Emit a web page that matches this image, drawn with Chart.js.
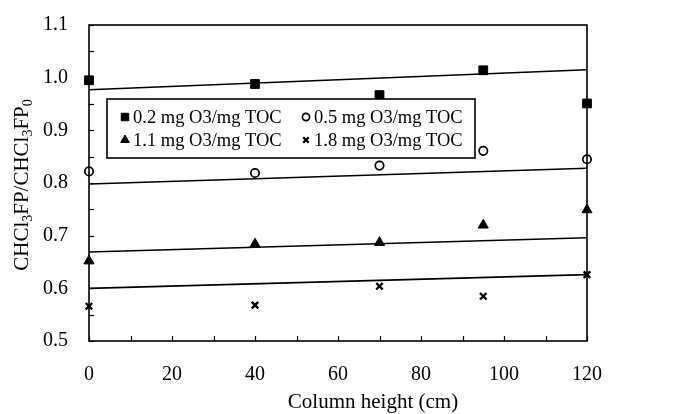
<!DOCTYPE html>
<html>
<head>
<meta charset="utf-8">
<script src="https://cdn.jsdelivr.net/npm/chart.js@4/dist/chart.umd.min.js"></script>
<style>
  html,body{margin:0;padding:0;background:#fff;}
  #wrap{width:680px;height:414px;position:relative;}
</style>
</head>
<body>
<div id="wrap"><canvas id="c" width="680" height="414"></canvas></div>
<script>
// ---- data ----
const heights = [0, 40, 70, 95, 120];
const s02 = [0.995, 0.988, 0.967, 1.014, 0.951];
const s05 = [0.822, 0.819, 0.833, 0.861, 0.845];
const s11 = [0.652, 0.684, 0.687, 0.720, 0.749];
const s18 = [0.566, 0.568, 0.604, 0.585, 0.626];
const fitX = [0, 120];
const fit02 = [0.977, 1.015];
const fit05 = [0.798, 0.828];
const fit11 = [0.669, 0.696];
const fit18 = [0.600, 0.626];
const seriesLabels = ['0.2 mg O3/mg TOC', '0.5 mg O3/mg TOC', '1.1 mg O3/mg TOC', '1.8 mg O3/mg TOC'];
const yTicks = [0.5, 0.6, 0.7, 0.8, 0.9, 1.0, 1.1];
const xTicks = [0, 20, 40, 60, 80, 100, 120];
const xTitle = 'Column height (cm)';
const yTitleParts = [['CHCl', false], ['3', true], ['FP/CHCl', false], ['3', true], ['FP', false], ['0', true]];

const SERIF = '"Liberation Serif", "Times New Roman", serif';
const pts = (ys) => heights.map((x, i) => ({x: x, y: ys[i]}));
const line = (ys) => fitX.map((x, i) => ({x: x, y: ys[i]}));

const markerStyles = [
  {pointStyle: 'rect', pointRadius: 6.2, backgroundColor: '#000', borderColor: '#000', borderWidth: 1},
  {pointStyle: 'circle', pointRadius: 4.2, backgroundColor: '#fff', borderColor: '#000', borderWidth: 1.7},
  {pointStyle: 'triangle', pointRadius: 5.8, backgroundColor: '#000', borderColor: '#000', borderWidth: 1},
  {pointStyle: 'crossRot', pointRadius: 4.6, backgroundColor: '#000', borderColor: '#000', borderWidth: 2.4}
];
const seriesData = [s02, s05, s11, s18];
const fitData = [fit02, fit05, fit11, fit18];

const datasets = [];
fitData.forEach((f) => datasets.push({
  type: 'line', data: line(f), borderColor: '#000', borderWidth: 1.6,
  pointRadius: 0, fill: false, clip: false, tension: 0
}));
seriesData.forEach((s, i) => datasets.push(Object.assign({
  type: 'scatter', label: seriesLabels[i], data: pts(s), clip: false
}, markerStyles[i])));

const framePlugin = {
  id: 'frame',
  afterDatasetsDraw(chart) {
    const {ctx, chartArea: a, scales} = chart;
    ctx.save();
    ctx.strokeStyle = '#000';
    ctx.lineWidth = 1.6;
    ctx.strokeRect(a.left, a.top, a.right - a.left, a.bottom - a.top);
    ctx.lineWidth = 1.2;
    // inward minor ticks
    for (let v = 0.5; v <= 1.1001; v += 0.05) {
      const y = Math.round(scales.y.getPixelForValue(v)) + 0.5;
      ctx.beginPath(); ctx.moveTo(a.left, y); ctx.lineTo(a.left + 5, y); ctx.stroke();
    }
    for (let v = 0; v <= 120; v += 10) {
      const x = Math.round(scales.x.getPixelForValue(v)) + 0.5;
      ctx.beginPath(); ctx.moveTo(x, a.bottom); ctx.lineTo(x, a.bottom - 5); ctx.stroke();
    }
    ctx.restore();
  },
  afterDraw(chart) {
    const {ctx, chartArea: a} = chart;
    ctx.save();
    // x-axis title
    ctx.font = '21px ' + SERIF;
    ctx.fillStyle = '#000';
    ctx.textAlign = 'center';
    ctx.textBaseline = 'middle';
    ctx.fillText(xTitle, a.left + 284, a.bottom + 61);
    ctx.restore();

    ctx.save();
    // y-axis title with subscripts
    const big = 21, small = 14;
    let total = 0;
    yTitleParts.forEach(([t, sub]) => {
      ctx.font = (sub ? small : big) + 'px ' + SERIF;
      total += ctx.measureText(t).width;
    });
    ctx.translate(21, a.top + 160);
    ctx.rotate(-Math.PI / 2);
    ctx.fillStyle = '#000';
    ctx.textBaseline = 'alphabetic';
    let x = -total / 2;
    yTitleParts.forEach(([t, sub]) => {
      ctx.font = (sub ? small : big) + 'px ' + SERIF;
      ctx.fillText(t, x, sub ? 11 : 7);
      x += ctx.measureText(t).width;
    });
    ctx.restore();

    // legend box
    ctx.save();
    const bx = a.left + 18, by = a.top + 74, bw = 368, bh = 59;
    ctx.fillStyle = '#fff';
    ctx.fillRect(bx, by, bw, bh);
    ctx.strokeStyle = '#000';
    ctx.lineWidth = 1.6;
    ctx.strokeRect(bx, by, bw, bh);
    ctx.font = '18.5px ' + SERIF;
    ctx.textBaseline = 'middle';
    ctx.fillStyle = '#000';
    const cols = [bx + 18, bx + 199];
    const rows = [by + 18, by + 41];
    seriesLabels.forEach((lab, i) => {
      const cx = cols[i % 2], cy = rows[Math.floor(i / 2)];
      const ms = markerStyles[i];
      ctx.fillStyle = ms.backgroundColor;
      ctx.strokeStyle = ms.borderColor;
      ctx.lineWidth = ms.borderWidth;
      Chart.helpers.drawPoint(ctx, {pointStyle: ms.pointStyle, radius: ms.pointRadius * 0.85, borderWidth: ms.borderWidth}, cx, cy);
      ctx.fillStyle = '#000';
      ctx.fillText(lab, cx + 8, cy + 1);
    });
    ctx.restore();
  }
};

new Chart(document.getElementById('c'), {
  data: {datasets},
  options: {
    responsive: false,
    animation: false,
    devicePixelRatio: 1,
    layout: {padding: {left: 0, right: 93, top: 25, bottom: 0}},
    plugins: {legend: {display: false}, tooltip: {enabled: false}},
    scales: {
      x: {
        type: 'linear', min: 0, max: 120,
        afterFit(s) { s.height = 73; s.paddingLeft = 0; s.paddingRight = 0; },
        afterBuildTicks(s) { s.ticks = xTicks.map(v => ({value: v})); },
        grid: {display: false, drawTicks: false},
        border: {display: false},
        ticks: {color: '#000', font: {family: SERIF, size: 20}, padding: 22, maxRotation: 0},
        title: {display: false}
      },
      y: {
        type: 'linear', min: 0.5, max: 1.1,
        afterFit(s) { s.width = 89; s.paddingTop = 0; s.paddingBottom = 0; },
        afterBuildTicks(s) { s.ticks = yTicks.map(v => ({value: v})); },
        grid: {display: false, drawTicks: false},
        border: {display: false},
        ticks: {color: '#000', font: {family: SERIF, size: 20}, padding: 21, callback: v => Number(v).toFixed(1)}
      }
    }
  },
  plugins: [framePlugin]
});
</script>
</body>
</html>
